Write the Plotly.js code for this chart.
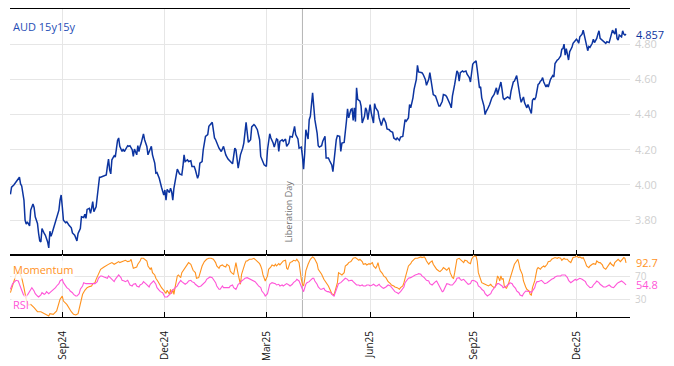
<!DOCTYPE html>
<html><head><meta charset="utf-8">
<script src="https://cdn.plot.ly/plotly-3.0.1.min.js"></script>
<style>html,body{margin:0;padding:0;background:#fff;}#chart{width:674px;height:366px;}</style>
</head><body><div id="chart"></div>
<script>
// ---- data ----
const START_DATE = '2024-07-17';          // day 0 of the day-offset arrays
const X_RANGE = ['2024-07-16 15:00', '2026-01-17 12:00'];
const EVENT_DATE = '2025-04-02';
const EVENT_LABEL = 'Liberation Day';
const SERIES_NAME = 'AUD 15y15y';
const MOM_NAME = 'Momentum';
const RSI_NAME = 'RSI';
const audTicks = [3.8, 4.0, 4.2, 4.4, 4.6, 4.8];
const oscTicks = [30, 70];

const audDays = [
0,1,3,7,8,9,10,12,13,14,
15,17,18,20,21,22,24,25,26,27,
28,30,31,33,34,35,36,37,39,41,
43,44,45,46,47,49,50,52,54,55,
57,59,60,62,63,65,66,67,68,70,
71,72,73,74,76,77,79,80,83,85,
86,87,88,89,90,92,93,94,95,96,
97,99,100,101,103,104,105,106,108,109,
110,112,113,114,115,116,118,119,121,122,
124,125,126,128,129,130,132,133,134,136,
137,138,139,141,142,143,144,145,147,148,
150,152,153,154,155,157,158,160,161,163,
164,166,167,168,170,171,173,175,176,178,
179,181,182,185,187,189,191,193,196,197,
199,200,202,203,204,206,207,209,210,211,
213,214,216,217,219,221,222,224,225,227,
228,230,231,233,234,236,237,238,239,241,
242,244,245,247,248,250,251,252,253,255,
256,258,259,260,261,262,264,265,266,267,
268,269,270,272,273,274,276,277,279,280,
282,283,285,286,288,289,290,292,293,294,
296,297,298,299,300,302,303,304,305,306,
307,308,310,311,312,314,315,316,317,319,
320,322,323,324,326,327,329,330,331,333,
334,336,337,339,340,342,343,345,346,348,
349,350,351,353,354,355,357,358,360,361,
362,364,365,366,368,369,371,372,373,374,
375,377,378,380,381,383,384,386,387,389,
390,391,392,394,395,396,397,398,399,401,
402,404,405,407,408,409,410,411,413,414,
415,416,417,418,420,421,422,423,425,426,
427,429,430,431,432,433,435,436,437,438,
440,441,443,444,446,447,449,450,451,452,
453,455,456,457,458,459,461,462,463,464,
465,466,468,469,470,471,472,473,475,476,
477,478,479,481,482,483,484,485,486,488,
489,490,491,492,493,494,495,496,498,499,
501,502,503,504,505,507,508,510,511,512,
513,514,516,517,518,520,521,522,523,525,
526,528,529,531,532,533,534,536,537,538,
539,540,542,543,544,545,546];
const audValues = [
3.947,3.987,4.000,4.036,4.044,4.006,3.994,3.914,3.800,3.777,
3.790,3.767,3.857,3.891,3.872,3.819,3.781,3.724,3.682,3.676,
3.752,3.724,3.714,3.676,3.642,3.737,3.709,3.727,3.766,3.815,
3.857,3.914,3.943,3.876,3.800,3.785,3.790,3.771,3.756,3.727,
3.714,3.682,3.724,3.752,3.819,3.815,3.834,3.810,3.861,3.867,
3.838,3.867,3.905,3.848,3.876,3.933,4.044,4.044,4.051,4.057,
4.105,4.147,4.086,4.063,4.143,4.166,4.158,4.219,4.253,4.267,
4.219,4.190,4.204,4.190,4.215,4.223,4.219,4.223,4.200,4.162,
4.204,4.171,4.223,4.190,4.219,4.238,4.290,4.257,4.219,4.171,
4.204,4.219,4.171,4.124,4.067,4.070,4.038,4.019,3.987,3.943,
3.971,3.914,3.975,3.956,3.981,3.962,3.914,3.981,4.047,4.090,
4.063,4.057,4.105,4.171,4.133,4.143,4.133,4.137,4.105,4.105,
4.086,4.038,4.057,4.124,4.133,4.200,4.276,4.286,4.333,4.352,
4.356,4.267,4.257,4.209,4.190,4.219,4.171,4.147,4.128,4.120,
4.209,4.200,4.095,4.133,4.171,4.209,4.238,4.356,4.276,4.242,
4.257,4.330,4.343,4.337,4.314,4.257,4.162,4.124,4.114,4.105,
4.200,4.291,4.267,4.238,4.215,4.261,4.257,4.190,4.248,4.257,
4.248,4.261,4.219,4.238,4.276,4.272,4.305,4.333,4.286,4.261,
4.209,4.215,4.162,4.090,4.181,4.314,4.261,4.371,4.390,4.476,
4.524,4.448,4.371,4.295,4.223,4.215,4.223,4.248,4.276,4.153,
4.153,4.139,4.114,4.076,4.219,4.257,4.280,4.276,4.190,4.238,
4.242,4.330,4.362,4.433,4.381,4.429,4.433,4.367,4.438,4.360,
4.552,4.486,4.476,4.448,4.352,4.390,4.438,4.424,4.371,4.457,
4.410,4.352,4.462,4.438,4.419,4.381,4.337,4.362,4.381,4.352,
4.318,4.314,4.305,4.299,4.267,4.257,4.267,4.253,4.272,4.276,
4.318,4.371,4.362,4.381,4.457,4.438,4.495,4.543,4.600,4.680,
4.642,4.638,4.638,4.629,4.600,4.566,4.600,4.638,4.600,4.566,
4.514,4.505,4.486,4.448,4.448,4.476,4.514,4.509,4.500,4.476,
4.457,4.438,4.505,4.571,4.629,4.648,4.638,4.590,4.638,4.648,
4.642,4.648,4.629,4.610,4.585,4.648,4.686,4.695,4.705,4.657,
4.590,4.552,4.557,4.495,4.448,4.400,4.419,4.429,4.457,4.476,
4.495,4.514,4.533,4.552,4.514,4.543,4.585,4.543,4.495,4.486,
4.495,4.500,4.490,4.533,4.585,4.590,4.622,4.571,4.543,4.500,
4.470,4.500,4.467,4.448,4.438,4.457,4.419,4.406,4.481,4.490,
4.486,4.500,4.571,4.576,4.590,4.595,4.610,4.585,4.557,4.571,
4.557,4.585,4.600,4.622,4.614,4.690,4.705,4.710,4.714,4.733,
4.771,4.775,4.800,4.738,4.775,4.733,4.710,4.757,4.782,4.805,
4.824,4.828,4.820,4.805,4.842,4.857,4.880,4.824,4.805,4.763,
4.787,4.782,4.805,4.828,4.809,4.833,4.857,4.876,4.833,4.820,
4.814,4.805,4.814,4.809,4.833,4.862,4.880,4.857,4.890,4.833,
4.824,4.852,4.842,4.876,4.857,4.852,4.857];

const momDays = [
0,3,5,8,10,12,14,16,18,21,
24,27,30,32,34,35,38,41,43,44,
46,47,50,52,54,56,58,60,61,63,
64,66,68,70,72,73,75,76,77,79,
80,83,85,88,90,92,94,96,97,100,
102,104,106,107,108,109,112,113,115,116,
118,119,121,122,124,125,126,128,129,131,
132,134,136,137,138,139,141,142,143,144,
145,146,147,148,149,151,152,154,155,157,
158,160,161,162,164,165,167,168,169,170,
172,174,176,178,180,182,183,185,186,188,
189,191,192,194,195,196,198,199,200,202,
203,204,205,206,207,208,209,210,212,214,
216,217,219,221,222,223,224,225,226,228,
229,231,232,234,235,236,238,239,241,242,
244,245,246,247,248,250,251,253,254,256,
257,258,259,260,261,262,264,266,268,269,
270,272,273,275,276,278,279,281,282,284,
285,287,288,290,291,293,294,296,297,299,
300,302,303,304,306,307,309,310,312,313,
315,316,318,319,321,322,324,325,326,327,
328,330,331,333,334,335,337,338,340,341,
343,344,345,346,348,349,350,352,353,355,
356,358,359,361,362,364,365,367,368,369,
371,372,374,375,377,378,380,381,383,384,
386,387,389,390,392,393,394,395,396,398,
399,400,402,403,405,406,408,409,410,411,
413,414,415,417,418,420,421,423,424,426,
427,429,430,431,432,433,434,435,436,437,
438,439,440,442,443,444,445,446,447,449,
450,451,452,454,455,457,458,460,461,462,
463,465,466,467,468,470,471,473,474,476,
477,479,480,482,483,485,486,488,489,491,
492,494,495,497,498,499,501,502,504,505,
507,508,510,511,513,514,516,517,519,520,
522,523,525,526,528,529,531,532,533,535,
536,538,539,541,542,544,545,546];
const momValues = [
41.4,61.5,72.9,75.8,67.2,50.0,30.0,20.3,21.4,15.7,
8.8,8.8,5.4,3.1,1.4,5.4,4.2,10.0,21.4,30.0,
35.7,27.1,21.4,14.5,8.8,4.2,3.1,5.4,12.8,27.1,
38.6,45.5,50.0,51.8,52.9,56.9,58.6,64.3,68.4,75.8,
81.5,85.5,88.4,91.2,93.0,90.1,92.4,94.7,93.0,95.8,
97.0,94.7,95.8,98.7,87.2,83.2,85.5,90.1,95.8,100.4,
100.4,98.7,95.8,87.2,81.5,84.4,75.8,71.8,66.1,60.3,
55.8,50.0,45.5,43.2,40.3,45.5,38.6,47.2,39.7,47.2,
38.6,50.0,58.6,70.1,71.8,67.2,75.8,81.5,85.5,91.2,
93.0,90.1,83.2,79.8,75.8,66.1,67.2,75.8,81.5,87.2,
94.7,98.7,100.4,100.4,98.7,93.0,87.2,83.2,87.2,89.0,
87.2,85.5,90.1,87.2,78.7,75.8,72.9,85.5,93.0,72.9,
64.3,55.8,72.9,79.8,84.4,91.2,95.8,95.8,98.7,98.7,
100.4,98.7,95.8,91.2,87.2,81.5,71.8,67.2,61.5,70.1,
81.5,85.5,89.0,87.2,90.1,87.2,91.2,89.0,93.0,95.8,
97.0,83.2,81.5,87.2,93.0,94.7,97.0,95.8,98.7,93.0,
75.8,64.3,55.8,52.9,64.3,78.7,90.1,98.7,102.7,101.6,
98.7,91.2,81.5,75.8,72.9,64.3,61.5,55.8,52.9,44.3,
39.7,37.4,44.3,58.6,75.8,72.9,71.8,75.8,87.2,90.1,
93.0,94.7,98.7,100.4,101.6,100.4,97.0,98.7,94.7,90.1,
91.2,89.0,91.2,90.1,93.0,87.2,83.2,87.2,93.0,84.4,
78.7,74.1,70.1,67.2,62.6,60.3,56.9,54.6,52.9,51.2,
50.0,48.9,47.2,50.0,52.9,58.6,67.2,78.7,87.2,91.2,
94.7,98.7,100.4,100.4,101.6,102.7,101.6,102.7,100.4,95.8,
90.1,93.0,95.8,90.1,84.4,81.5,78.7,77.5,81.5,84.4,
81.5,79.8,84.4,75.8,67.2,66.1,75.8,90.1,98.7,100.4,
98.7,95.8,93.0,97.0,95.8,93.0,91.2,98.7,102.7,104.4,
103.8,95.8,75.8,61.5,58.6,56.9,55.8,54.6,52.9,55.8,
52.9,50.0,51.2,58.6,70.1,67.2,61.5,70.1,64.3,66.1,
52.9,50.0,48.9,58.6,64.3,72.9,78.7,84.4,90.1,95.8,
98.7,91.2,81.5,72.9,61.5,51.2,47.2,44.3,38.6,37.4,
50.0,61.5,75.8,81.5,84.4,81.5,84.4,87.2,85.5,90.1,
94.7,95.8,98.7,100.4,101.6,100.4,101.6,100.4,97.0,100.4,
98.7,98.7,95.8,93.0,98.7,101.6,102.7,104.4,101.6,102.7,
100.4,101.6,93.0,87.2,84.4,87.2,90.1,91.2,90.1,95.8,
93.0,93.0,89.0,84.4,81.5,84.4,90.1,93.0,90.1,87.2,
93.0,97.0,98.7,94.7,97.0,101.6,100.4,92.7];

const rsiDays = [
0,2,5,7,8,10,12,14,16,18,
19,21,22,24,25,27,28,30,31,32,
34,35,37,38,40,41,43,44,46,47,
49,50,52,53,55,56,58,59,61,62,
64,65,67,68,69,71,72,74,75,77,
78,80,81,83,84,86,87,89,90,92,
93,95,96,98,99,101,102,104,105,106,
108,109,111,112,114,115,117,118,120,121,
123,124,126,127,129,130,132,133,135,136,
137,139,140,142,143,145,146,148,149,151,
152,154,155,157,158,160,161,163,164,166,
167,169,170,171,173,174,176,177,179,180,
182,183,185,186,188,189,191,192,194,195,
197,198,200,201,202,204,205,207,208,210,
211,213,214,216,217,219,220,222,223,225,
226,228,229,230,232,234,235,236,238,239,
241,242,244,245,247,248,250,251,253,254,
256,257,259,260,261,262,263,265,266,268,
269,270,272,273,275,276,278,279,281,282,
284,285,287,288,290,291,293,294,296,297,
299,300,302,303,304,306,307,309,310,312,
313,315,316,318,319,321,322,324,325,327,
328,330,331,333,334,335,337,338,340,341,
343,344,346,347,349,350,352,353,355,356,
358,359,361,362,364,365,367,368,369,371,
372,374,375,377,378,380,381,383,384,386,
387,389,390,392,393,395,396,398,399,400,
402,403,405,406,408,409,410,412,414,415,
417,418,420,421,423,424,426,427,429,430,
432,433,434,436,437,439,440,442,443,445,
446,448,449,451,452,454,455,457,458,460,
461,462,463,465,466,467,468,470,471,473,
474,476,477,479,480,482,483,485,486,488,
489,491,492,494,495,497,498,499,501,502,
504,505,507,508,510,511,513,514,516,517,
519,520,522,523,525,526,528,529,531,532,
533,535,536,538,539,541,542,544,545,546];
const rsiValues = [
47.2,56.9,62.6,61.5,55.8,44.3,35.7,34.0,39.7,47.2,
50.0,44.3,39.7,35.7,34.0,37.4,41.4,38.6,39.7,43.2,
39.7,41.4,44.3,47.2,50.0,52.9,56.9,61.5,64.3,58.6,
52.9,50.0,47.2,44.3,41.4,38.6,35.7,35.7,39.7,47.2,
52.9,58.6,56.9,56.9,56.9,56.9,56.9,55.8,56.9,60.3,
66.1,70.1,70.1,68.4,67.2,66.1,70.1,66.1,62.6,60.3,
64.3,68.4,71.8,67.2,62.6,61.5,60.3,62.6,58.6,54.6,
52.9,55.8,56.9,52.9,51.2,54.6,56.9,60.3,56.9,54.6,
51.2,55.8,58.6,61.5,55.8,50.0,45.5,43.2,41.4,37.4,
34.0,34.0,35.7,39.7,44.3,47.2,50.0,52.9,56.9,62.6,
60.3,56.9,55.8,58.6,61.5,62.6,60.3,58.6,55.8,52.9,
51.2,52.9,54.6,56.9,60.3,64.3,67.2,68.4,67.2,64.3,
58.6,52.9,47.2,47.2,52.9,50.0,50.0,48.9,50.0,52.9,
54.6,50.0,47.2,51.2,55.8,58.6,61.5,64.3,66.1,67.2,
66.1,64.3,62.6,61.5,60.3,55.8,52.9,50.0,44.3,39.7,
35.7,39.7,51.2,55.8,58.6,56.9,56.9,54.6,55.8,52.9,
54.6,52.9,55.8,56.9,54.6,52.9,55.8,58.6,61.5,64.3,
61.5,55.8,47.2,43.2,50.0,55.8,58.6,60.3,62.6,66.1,
66.1,61.5,55.8,51.2,47.2,47.2,48.9,45.5,43.2,43.2,
41.4,38.6,35.7,41.4,50.0,56.9,58.6,60.3,64.3,66.1,
64.3,61.5,62.6,62.6,60.3,55.8,54.6,54.6,52.9,54.6,
52.9,52.9,54.6,54.6,52.9,54.6,55.8,52.9,52.9,55.8,
52.9,50.0,48.9,51.2,52.9,54.6,52.9,50.0,45.5,43.2,
41.4,39.7,43.2,45.5,51.2,58.6,62.6,66.1,67.2,68.4,
70.1,71.8,72.9,74.1,72.9,70.1,67.2,64.3,62.6,61.5,
56.9,54.6,56.9,60.3,61.5,54.6,48.9,43.2,44.3,51.2,
56.9,55.8,54.6,54.6,56.9,61.5,66.1,67.2,64.3,62.6,
64.3,62.6,58.6,55.8,56.9,61.5,62.6,61.5,58.6,52.9,
50.0,47.2,44.3,39.7,35.7,37.4,39.7,44.3,50.0,52.9,
56.9,56.9,55.8,52.9,50.0,51.2,52.9,55.8,58.6,56.9,
52.9,48.9,44.3,41.4,37.4,35.7,39.7,44.3,44.3,44.3,
43.2,41.4,44.3,50.0,56.9,60.3,60.3,61.5,62.6,58.6,
56.9,58.6,60.3,62.6,64.3,66.1,68.4,70.1,70.1,70.1,
71.8,71.8,71.8,67.2,62.6,58.6,60.3,62.6,64.3,62.6,
64.3,66.1,64.3,62.6,60.3,55.8,51.2,50.0,51.2,54.6,
58.6,61.5,58.6,55.8,52.9,51.2,51.2,52.9,54.6,52.9,
51.2,50.0,52.9,56.9,58.6,60.3,61.5,58.6,56.9,54.8];

// ---- build ----
const base = Date.parse(START_DATE + 'T00:00:00Z');
const toDate = d => new Date(base + d * 86400000).toISOString().slice(0, 10);
const audX = audDays.map(toDate), momX = momDays.map(toDate), rsiX = rsiDays.map(toDate);

const BLUE = '#0c34a0', ORANGE = '#ff921e', PINK = '#ff55d8';
const GRID = '#e6e6e6', TICKGREY = '#cfcfcf';
const FONT = '"Open Sans", sans-serif';
const split = 0.2003;

const traces = [
  {x: audX, y: audValues, type: 'scatter', mode: 'lines', xaxis: 'x', yaxis: 'y',
   line: {color: BLUE, width: 1.5}, name: SERIES_NAME},
  {x: momX, y: momValues, type: 'scatter', mode: 'lines', xaxis: 'x2', yaxis: 'y2',
   line: {color: ORANGE, width: 1.1}, name: MOM_NAME},
  {x: rsiX, y: rsiValues, type: 'scatter', mode: 'lines', xaxis: 'x2', yaxis: 'y2',
   line: {color: PINK, width: 1.1}, name: RSI_NAME}
];

const xCommon = {type: 'date', range: X_RANGE, tick0: '2024-09-01', dtick: 'M3',
  showline: true, mirror: true, linecolor: '#000', linewidth: 1,
  ticks: 'inside', ticklen: 5, tickwidth: 1, tickcolor: '#000',
  showgrid: true, gridcolor: GRID, gridwidth: 1, zeroline: false};

const lastAud = audValues[audValues.length - 1];
const lastMom = momValues[momValues.length - 1];
const lastRsi = rsiValues[rsiValues.length - 1];

const layout = {
  width: 674, height: 366,
  margin: {l: 10, r: 44, t: 9, b: 49, pad: 0},
  paper_bgcolor: '#fff', plot_bgcolor: '#fff',
  showlegend: false,
  font: {family: FONT, size: 11, color: '#000'},
  xaxis: Object.assign({}, xCommon, {anchor: 'y', domain: [0, 1], showticklabels: false}),
  xaxis2: Object.assign({}, xCommon, {anchor: 'y2', domain: [0, 1], matches: 'x',
    showticklabels: true, tickformat: '%b%y', tickangle: -90,
    tickfont: {family: FONT, size: 10, color: '#111'}, ticklabelstandoff: 9}),
  yaxis: {anchor: 'x', domain: [split, 1], side: 'right', range: [3.6, 5.0],
    tickvals: audTicks, tickformat: '.2f', ticks: '', showline: false, zeroline: false,
    showgrid: true, gridcolor: GRID, tickfont: {family: FONT, size: 11, color: TICKGREY},
    ticklabelstandoff: 4},
  yaxis2: {anchor: 'x2', domain: [0, split], side: 'right', range: [-0.3, 105.5],
    tickvals: oscTicks, ticks: '', showline: false, zeroline: false,
    showgrid: true, gridcolor: GRID, tickfont: {family: FONT, size: 10, color: TICKGREY},
    ticklabelstandoff: 4},
  shapes: [
    {type: 'line', xref: 'x', yref: 'paper', x0: EVENT_DATE, x1: EVENT_DATE, y0: 0, y1: 1,
     line: {color: '#b4b4b4', width: 1}, layer: 'below'}
  ],
  annotations: [
    {text: SERIES_NAME, xref: 'paper', yref: 'paper', x: 0, y: 1, xanchor: 'left', yanchor: 'top',
     xshift: 1, yshift: -8, showarrow: false, font: {family: FONT, size: 11, color: '#1f4db5'}},
    {text: lastAud.toFixed(3), xref: 'paper', yref: 'y', x: 1, y: lastAud, xanchor: 'left', yanchor: 'middle',
     xshift: 4, showarrow: false, font: {family: FONT, size: 11, color: BLUE}},
    {text: MOM_NAME, xref: 'paper', yref: 'y2 domain', x: 0, y: 1, xanchor: 'left', yanchor: 'top',
     xshift: 1, yshift: -5, showarrow: false, bgcolor: 'rgba(255,255,255,0.75)',
     font: {family: FONT, size: 11, color: ORANGE}},
    {text: RSI_NAME, xref: 'paper', yref: 'y2 domain', x: 0, y: 0, xanchor: 'left', yanchor: 'bottom',
     xshift: 1, yshift: 3, showarrow: false, bgcolor: 'rgba(255,255,255,0.75)',
     font: {family: FONT, size: 11, color: PINK}},
    {text: lastMom.toFixed(1), xref: 'paper', yref: 'y2', x: 1, y: lastMom, xanchor: 'left', yanchor: 'middle',
     xshift: 4, showarrow: false, font: {family: FONT, size: 11, color: ORANGE}},
    {text: lastRsi.toFixed(1), xref: 'paper', yref: 'y2', x: 1, y: lastRsi, xanchor: 'left', yanchor: 'middle',
     xshift: 4, showarrow: false, font: {family: FONT, size: 11, color: PINK}},
    {text: EVENT_LABEL, xref: 'x', yref: 'y domain', x: EVENT_DATE, y: 0, xanchor: 'center', yanchor: 'bottom',
     xshift: -14, yshift: 11, textangle: -90, showarrow: false,
     font: {family: FONT, size: 9, color: '#707070'}}
  ]
};

Plotly.newPlot('chart', traces, layout, {staticPlot: true, displayModeBar: false});
</script>
</body></html>
